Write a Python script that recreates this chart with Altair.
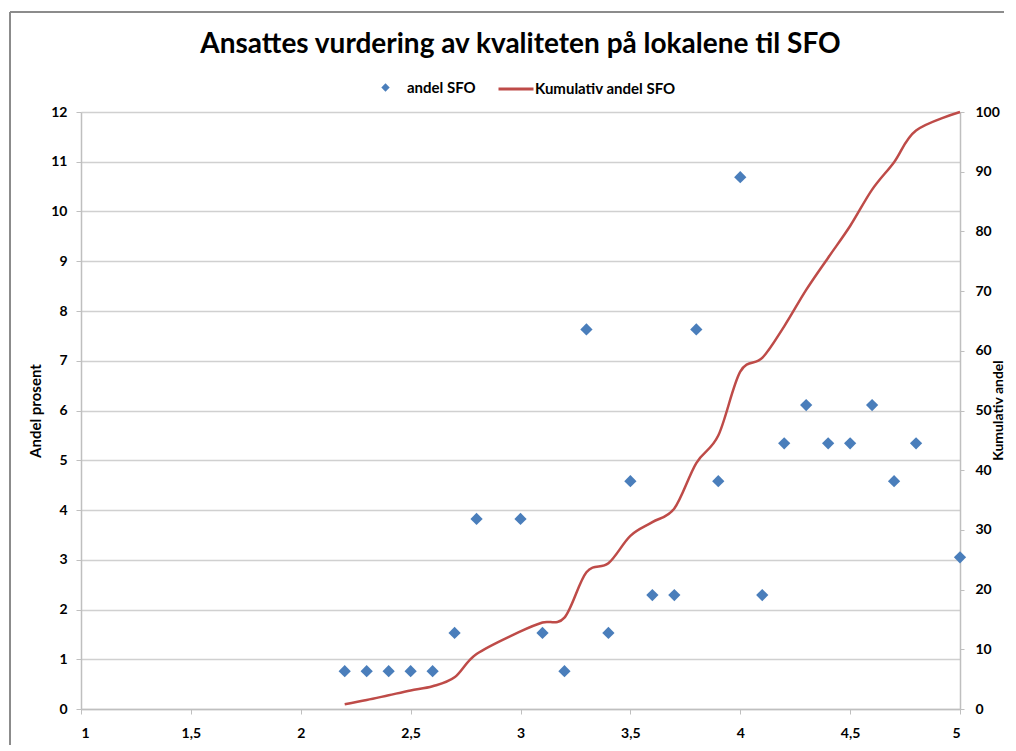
import altair as alt
import pandas as pd

# Data
score = [2.2, 2.3, 2.4, 2.5, 2.6, 2.7, 2.8, 3.0, 3.1, 3.2, 3.3, 3.4, 3.5, 3.6,
         3.7, 3.8, 3.9, 4.0, 4.1, 4.2, 4.3, 4.4, 4.5, 4.6, 4.7, 4.8, 5.0]
andel = [0.76, 0.76, 0.76, 0.76, 0.76, 1.53, 3.82, 3.82, 1.53, 0.76, 7.63, 1.53,
         4.58, 2.29, 2.29, 7.63, 4.58, 10.69, 2.29, 5.34, 6.11, 5.34, 5.34, 6.11,
         4.58, 5.34, 3.05]
kumulativ = [0.8, 1.5, 2.3, 3.1, 3.8, 5.3, 9.2, 13.0, 14.5, 15.3, 22.9, 24.4,
             29.0, 31.3, 33.6, 41.2, 45.8, 56.5, 58.8, 64.1, 70.2, 75.6, 80.9,
             87.0, 91.6, 96.9, 100.0]
x_ticks = [1, 1.5, 2, 2.5, 3, 3.5, 4, 4.5, 5]
left_ticks = list(range(0, 13))
right_ticks = list(range(0, 101, 10))

df = pd.DataFrame({
    "score": score,
    "andel": andel,
    "kumulativ": kumulativ,
    "s1": "andel SFO",
    "s2": "Kumulativ andel SFO",
})

FONT = "Lato"
BLUE = "#4A7EBB"
RED = "#BE4B48"
GRID = "#D0D0D0"
AXIS = "#BFBFBF"
TICKFS = 14
TITLEFS = 15

x_enc = alt.X(
    "score:Q",
    scale=alt.Scale(domain=[1, 5], nice=False, zero=False),
    axis=alt.Axis(
        values=x_ticks, title=None, grid=False,
        labelExpr="replace(format(datum.value, '~g'), '.', ',')",
        tickSize=5, labelPadding=12, domainColor=AXIS, tickColor=AXIS,
        domainWidth=1.5, labelFontSize=TICKFS, labelFontWeight="bold",
        labelFont=FONT, labelColor="#000000",
    ),
)

# decorative outer frame (top and left edges; the rest lies outside the picture)
frame_top = alt.Chart(df).mark_rule(color="#8C8C8C", strokeWidth=1.2).encode(
    x=alt.value(-71), x2=alt.value(960), y=alt.value(-100)
)
frame_left = alt.Chart(df).mark_rule(color="#8C8C8C", strokeWidth=1.2).encode(
    x=alt.value(-71), y=alt.value(-100), y2=alt.value(690)
)

points = alt.Chart(df).mark_point(
    shape="diamond", filled=True, size=150, opacity=1
).encode(
    x=x_enc,
    y=alt.Y(
        "andel:Q",
        scale=alt.Scale(domain=[0, 12], nice=False),
        axis=alt.Axis(
            values=left_ticks, title="Andel prosent", orient="left",
            grid=True, gridColor=GRID, gridWidth=1.5,
            domainColor=AXIS, tickColor=AXIS, domainWidth=1.5,
            tickSize=5, labelPadding=9, titlePadding=7,
            labelFontSize=TICKFS, labelFontWeight="bold", labelFont=FONT,
            labelColor="#000000", titleFontSize=TITLEFS, titleFont=FONT,
            titleFontWeight="bold", titleColor="#000000",
        ),
    ),
    color=alt.Color(
        "s1:N",
        scale=alt.Scale(domain=["andel SFO"], range=[BLUE]),
        legend=alt.Legend(
            title=None, orient="none", legendX=297, legendY=-32,
            symbolType="diamond", symbolSize=70, labelOffset=14,
            labelFontSize=15, labelFont=FONT, labelFontWeight="bold",
            labelColor="#000000", padding=0,
        ),
    ),
)

line = alt.Chart(df).mark_line(
    interpolate="cardinal", strokeWidth=2.5
).encode(
    x=x_enc,
    y=alt.Y(
        "kumulativ:Q",
        scale=alt.Scale(domain=[0, 100], nice=False),
        axis=alt.Axis(
            values=right_ticks, title="Kumulativ andel", orient="right",
            grid=False, domainColor=AXIS, tickColor=AXIS, domainWidth=1.5,
            tickSize=4, labelPadding=11,
            titleX=38, titleY=298, titleAlign="center", titleBaseline="middle",
            labelFontSize=TICKFS, labelFontWeight="bold", labelFont=FONT,
            labelColor="#000000", titleFontSize=14, titleFont=FONT,
            titleFontWeight="bold", titleColor="#000000", titleAngle=-90,
        ),
    ),
    color=alt.Color(
        "s2:N",
        scale=alt.Scale(domain=["Kumulativ andel SFO"], range=[RED]),
        legend=alt.Legend(
            title=None, orient="none", legendX=416, legendY=-42,
            symbolType="stroke", symbolSize=1225, symbolStrokeWidth=3,
            labelOffset=0, labelFontSize=15, labelFont=FONT,
            labelFontWeight="bold", labelColor="#000000", padding=0,
        ),
    ),
)

chart = alt.layer(frame_top, frame_left, points, line).resolve_scale(
    y="independent", color="independent"
).properties(
    width=879,
    height=597,
    title=alt.TitleParams(
        "Ansattes vurdering av kvaliteten på lokalene til SFO",
        anchor="middle", fontSize=28, font=FONT, fontWeight="bold",
        color="#000000", offset=-48,
    ),
    autosize=alt.AutoSizeParams(type="none"),
    padding={"left": 73, "top": 104, "right": 44, "bottom": 36},
    background="white",
).configure_view(strokeWidth=0)

chart.save("out.html", embed_options={"renderer": "svg", "actions": False})
